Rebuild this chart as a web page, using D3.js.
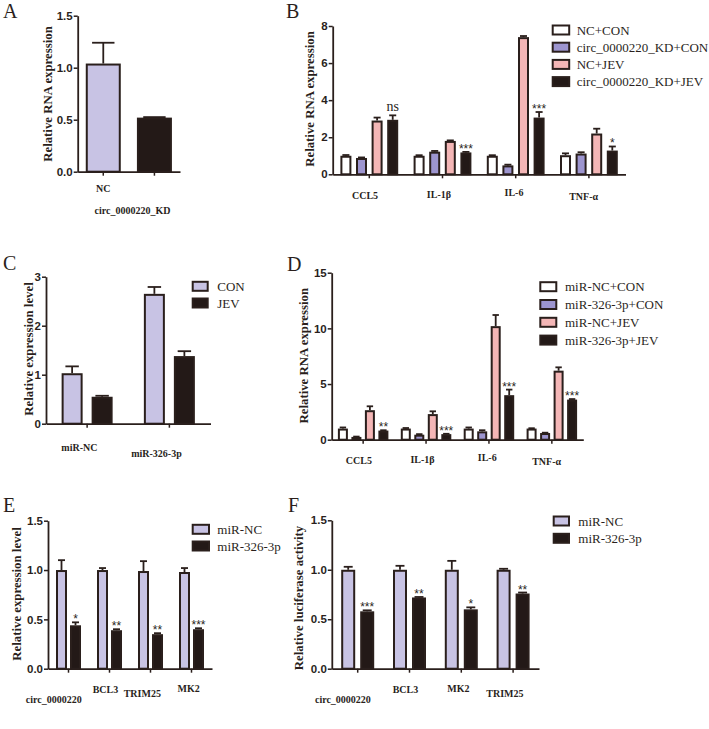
<!DOCTYPE html>
<html><head><meta charset="utf-8">
<script src="https://cdn.jsdelivr.net/npm/d3@7"></script>
<style>body{margin:0;background:#fff}svg{display:block}</style>
</head><body>
<svg id="c" width="709" height="729"></svg>
<script>
// ---------- DATA ----------
const catsA = ["NC", "circ_0000220_KD"];
const valA = [1.04, 0.52];
const errA = [0.20, 0.005];

const catsB = ["CCL5", "IL-1β", "IL-6", "TNF-α"];
const seriesB = ["NC+CON", "circ_0000220_KD+CON", "NC+JEV", "circ_0000220_KD+JEV"];
const valB = [
  [1.0, 1.0, 1.0, 1.03],
  [0.88, 1.22, 0.48, 1.12],
  [2.9, 1.8, 7.4, 2.2],
  [2.94, 1.18, 3.06, 1.28]
];
const errB = [
  [0.04, 0.03, 0.03, 0.1],
  [0.03, 0.04, 0.04, 0.07],
  [0.16, 0.03, 0.06, 0.26],
  [0.24, 0.03, 0.3, 0.22]
];
const sigB = ["ns", "***", "***", "*"];

const catsC = ["miR-NC", "miR-326-3p"];
const seriesC = ["CON", "JEV"];
const valC = [[1.03, 2.65], [0.55, 1.38]];
const errC = [[0.14, 0.14], [0.02, 0.1]];

const catsD = ["CCL5", "IL-1β", "IL-6", "TNF-α"];
const seriesD = ["miR-NC+CON", "miR-326-3p+CON", "miR-NC+JEV", "miR-326-3p+JEV"];
const valD = [
  [1.0, 1.0, 1.0, 1.0],
  [0.25, 0.45, 0.75, 0.6],
  [2.65, 2.3, 10.2, 6.2],
  [0.82, 0.5, 4.0, 3.6]
];
const errD = [
  [0.1, 0.05, 0.1, 0.03],
  [0.03, 0.05, 0.1, 0.03],
  [0.35, 0.25, 1.0, 0.3],
  [0.03, 0.03, 0.5, 0.05]
];
const sigD = ["**", "***", "***", "***"];

const catsE = ["circ_0000220", "BCL3", "TRIM25", "MK2"];
const seriesE = ["miR-NC", "miR-326-3p"];
const valE = [[1.0, 1.0, 0.99, 0.98], [0.44, 0.39, 0.35, 0.40]];
const errE = [[0.1, 0.02, 0.1, 0.04], [0.03, 0.01, 0.01, 0.01]];
const sigE = ["*", "**", "**", "***"];

const catsF = ["circ_0000220", "BCL3", "MK2", "TRIM25"];
const seriesF = ["miR-NC", "miR-326-3p"];
const valF = [[1.0, 1.0, 1.0, 1.0], [0.58, 0.72, 0.60, 0.76]];
const errF = [[0.03, 0.04, 0.09, 0.01], [0.01, 0.005, 0.02, 0.01]];
const sigF = ["***", "**", "*", "**"];

// ---------- STYLE ----------
const LAV = "#c8c3e4", PUR = "#9d95cf", PINK = "#f4b6b6", BLK = "#231917", WHT = "#ffffff";
const INK = "#2a1f1c";
const SERIF = "'Liberation Serif','Times New Roman',serif";
const SANS = "'Liberation Sans',Arial,sans-serif";

const svg = d3.select("#c");

// category label: horizontal, centred where the original 45° label's middle sits
function catLabel(g, str, px, py) {
  const t = g.append("text").attr("text-anchor", "middle")
    .attr("font-family", SERIF).attr("font-weight", "bold").attr("font-size", 10)
    .attr("fill", INK).text(str);
  const L = t.node().getComputedTextLength();
  const k = Math.SQRT1_2;
  t.attr("x", px - L / 2 * k + 2).attr("y", py + L / 2 * k + 4);
}

function panel(o) {
  const g = svg.append("g");
  const y = d3.scaleLinear().domain([0, o.ymax]).range([o.y0, o.y1]);
  const x = d3.scaleBand().domain(o.cats).range([o.x0, o.x1]).paddingInner(0).paddingOuter(0);
  const n = o.series.length;
  const sx = d3.scaleBand().domain(d3.range(n)).range([-n * o.step / 2, n * o.step / 2]);

  o.series.forEach((s, si) => {
    o.cats.forEach((c, ci) => {
      const v = o.vals[si][ci], e = o.errs[si][ci];
      const cx = x(c) + x.bandwidth() / 2 + sx(si) + sx.bandwidth() / 2;
      const col = o.colorByCat ? o.colors[ci] : o.colors[si];
      g.append("line").attr("x1", cx).attr("x2", cx).attr("y1", y(v)).attr("y2", y(v + e))
        .attr("stroke", INK).attr("stroke-width", 1.8);
      g.append("line").attr("x1", cx - o.w * 0.32).attr("x2", cx + o.w * 0.32)
        .attr("y1", y(v + e)).attr("y2", y(v + e)).attr("stroke", INK).attr("stroke-width", 1.8);
      g.append("rect").attr("x", cx - o.w / 2 + 1).attr("width", o.w - 2)
        .attr("y", y(v) + 1).attr("height", Math.max(0, y(0) - y(v) - 1))
        .attr("fill", col).attr("stroke", INK).attr("stroke-width", 2);
      if (o.sig && si === n - 1) {
        const t = o.sig[ci];
        const isNs = t === "ns";
        g.append("text").attr("x", cx).attr("y", y(v + e) - (isNs ? 4 : -1))
          .attr("text-anchor", "middle")
          .attr("font-family", isNs ? SERIF : SANS)
          .attr("font-size", isNs ? 14 : 12)
          .attr("fill", INK).text(t);
      }
    });
  });

  const ya = g.append("g").attr("transform", `translate(${o.x0},0)`)
    .call(d3.axisLeft(y).tickValues(o.ticks).tickFormat(d3.format(o.fmt)).tickSize(4).tickSizeOuter(0));
  const xa = g.append("g").attr("transform", `translate(0,${o.y0})`)
    .call(d3.axisBottom(x).tickSize(4).tickSizeOuter(0).tickFormat(""));
  [ya, xa].forEach(a => {
    a.select(".domain").attr("stroke", INK).attr("stroke-width", 1.8);
    a.selectAll(".tick line").attr("stroke", INK).attr("stroke-width", 1.5);
  });
  ya.selectAll(".tick text").attr("font-family", SANS).attr("font-weight", "bold")
    .attr("font-size", 11.5).attr("fill", INK).attr("x", -5);

  o.cats.forEach(c => {
    const cx = x(c) + x.bandwidth() / 2;
    catLabel(g, c, cx + 3, o.y0 + 11);
  });

  g.append("text").attr("transform", `translate(${o.tx},${o.ty}) rotate(-90)`)
    .attr("text-anchor", "middle").attr("dy", "0.35em")
    .attr("font-family", SERIF).attr("font-weight", "bold").attr("font-size", 12.8)
    .attr("fill", INK).text(o.title);

  g.append("text").attr("x", o.lx).attr("y", o.ly)
    .attr("font-family", SERIF).attr("font-size", 20).attr("fill", INK).text(o.letter);

  if (o.legend) {
    o.series.forEach((s, i) => {
      const ly = o.legend.y + i * o.legend.dy;
      g.append("rect").attr("x", o.legend.x + 1).attr("y", ly - 4.5).attr("width", o.legend.bw - 2).attr("height", 9)
        .attr("fill", o.colors[i]).attr("stroke", INK).attr("stroke-width", 2);
      g.append("text").attr("x", o.legend.tx).attr("y", ly).attr("dy", "0.35em")
        .attr("font-family", SERIF).attr("font-size", 13).attr("fill", INK).text(s);
    });
  }
}

panel({cats: catsA, series: ["v"], vals: [valA], errs: [errA], colors: [LAV, BLK], colorByCat: true,
  x0: 77.7, x1: 180, y0: 171.7, y1: 15.7, ymax: 1.5, ticks: [0, 0.5, 1.0, 1.5], fmt: ".1f",
  w: 35, step: 40, title: "Relative RNA expression", tx: 47.5, ty: 94, letter: "A", lx: 3, ly: 18});
panel({cats: catsB, series: seriesB, vals: valB, errs: errB, colors: [WHT, PUR, PINK, BLK], sig: sigB,
  x0: 332.7, x1: 625.5, y0: 174.3, y1: 26, ymax: 8, ticks: [0, 2, 4, 6, 8], fmt: "d",
  w: 11, step: 15.6, title: "Relative RNA expression", tx: 310, ty: 99, letter: "B", lx: 286, ly: 18,
  legend: {x: 551.7, y: 30, dy: 17.2, bw: 18.5, tx: 576.7}});
panel({cats: catsC, series: seriesC, vals: valC, errs: errC, colors: [LAV, BLK],
  x0: 46, x1: 210.5, y0: 423.7, y1: 276.7, ymax: 3, ticks: [0, 1, 2, 3], fmt: "d",
  w: 21, step: 30, title: "Relative expression level", tx: 28.3, ty: 349, letter: "C", lx: 3, ly: 270,
  legend: {x: 191.7, y: 286.3, dy: 16.7, bw: 17, tx: 217.3}});
panel({cats: catsD, series: seriesD, vals: valD, errs: errD, colors: [WHT, PUR, PINK, BLK], sig: sigD,
  x0: 331.7, x1: 583.3, y0: 439.7, y1: 272.7, ymax: 15, ticks: [0, 5, 10, 15], fmt: "d",
  w: 10, step: 13.5, title: "Relative RNA expression", tx: 303.3, ty: 355.7, letter: "D", lx: 287, ly: 271,
  legend: {x: 539.3, y: 286.7, dy: 17.8, bw: 18, tx: 565}});
panel({cats: catsE, series: seriesE, vals: valE, errs: errE, colors: [LAV, BLK], sig: sigE,
  x0: 48, x1: 212, y0: 668.7, y1: 520.7, ymax: 1.5, ticks: [0, 0.5, 1.0, 1.5], fmt: ".1f",
  w: 11, step: 14, title: "Relative expression level", tx: 16.7, ty: 594, letter: "E", lx: 3, ly: 512,
  legend: {x: 191.7, y: 529.3, dy: 16.7, bw: 18.3, tx: 217.3}});
panel({cats: catsF, series: seriesF, vals: valF, errs: errF, colors: [LAV, BLK], sig: sigF,
  x0: 331.8, x1: 539, y0: 668.7, y1: 520.3, ymax: 1.5, ticks: [0, 0.5, 1.0, 1.5], fmt: ".1f",
  w: 14, step: 19, title: "Relative luciferase activity", tx: 299, ty: 598, letter: "F", lx: 288, ly: 512,
  legend: {x: 552.7, y: 521, dy: 17.3, bw: 17.3, tx: 578.3}});
</script>
</body></html>
